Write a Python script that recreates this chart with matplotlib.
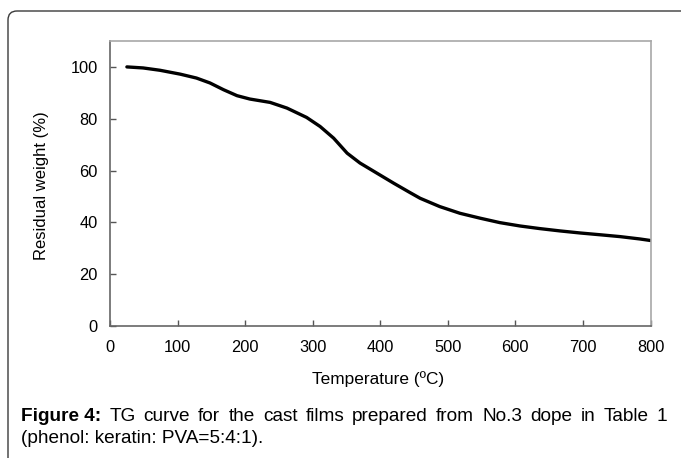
import matplotlib
matplotlib.use("Agg")
import matplotlib.pyplot as plt
from matplotlib.patches import FancyBboxPatch
from matplotlib.transforms import IdentityTransform

temperature = [25, 49, 74, 104, 128, 148, 168, 188, 207, 237, 262, 291, 311, 331,
               351, 370, 395, 420, 444, 459, 488, 518, 548, 577, 607, 636, 666,
               696, 726, 755, 784, 800]
residual = [100, 99.6, 98.7, 97.2, 95.7, 93.8, 91.2, 88.9, 87.6, 86.3, 84.1, 80.5,
            77.0, 72.5, 66.7, 62.9, 59.0, 55.1, 51.5, 49.3, 46.1, 43.5, 41.6, 39.9,
            38.6, 37.6, 36.7, 35.9, 35.2, 34.5, 33.6, 33.0]
x_ticks = [0, 100, 200, 300, 400, 500, 600, 700, 800]
y_ticks = [0, 20, 40, 60, 80, 100]

caption_bold = "Figure 4:"
caption_line1 = "TG curve for the cast films prepared from No.3 dope in Table 1"
caption_line2 = "(phenol: keratin: PVA=5:4:1)."

plt.rcParams['font.family'] = ['Liberation Sans', 'DejaVu Sans']

W, H = 681, 458
fig = plt.figure(figsize=(W / 100, H / 100), dpi=100)
fig.patch.set_facecolor('white')

# outer rounded frame
frame = FancyBboxPatch((8, -60), 720, H - 11 + 60,
                       boxstyle="round,pad=0,rounding_size=9",
                       transform=IdentityTransform(), fill=False,
                       edgecolor='#3a3a3a', linewidth=1.0)
fig.patches.append(frame)

ax = fig.add_axes([110 / W, (H - 326) / H, (650.5 - 110) / W, (326 - 41) / H])
ax.plot(temperature, residual, color='black', linewidth=2.4,
        solid_capstyle='round', solid_joinstyle='round')
ax.set_xlim(0, 800)
ax.set_ylim(0, 110)
ax.set_xticks(x_ticks)
ax.set_yticks(y_ticks)
ax.tick_params(direction='in', length=4, width=1, color='#555555',
               labelsize=11.8, labelcolor='black')
ax.tick_params(axis='x', pad=10)
ax.tick_params(axis='y', pad=9)
for s in ['left', 'bottom']:
    ax.spines[s].set_color('#666666')
    ax.spines[s].set_linewidth(1.2)
for s in ['top', 'right']:
    ax.spines[s].set_color('#a8a8a8')
    ax.spines[s].set_linewidth(1.2)

fig.text(378 / W, (H - 379) / H, "Temperature (ºC)", ha='center', va='center',
         fontsize=12.4)
fig.text(42 / W, (H - 186) / H, "Residual weight (%)", ha='center', va='center',
         rotation=90, fontsize=12.0)

# justified caption line 1
fig.canvas.draw()
renderer = fig.canvas.get_renderer()
x0, x1 = 21, 667
y1 = H - 421
probe = fig.text(0, 0, caption_bold + " " + caption_line1, fontsize=10)
pw = probe.get_window_extent(renderer).width
probe.remove()
fs = 10 * (x1 - x0) / pw * 0.94

words = [(caption_bold, 'bold')] + [(w, 'normal') for w in caption_line1.split()]
objs = []
total = 0
for w, wt in words:
    t = fig.text(0, y1 / H, w, fontsize=fs, fontweight=wt, va='baseline', ha='left')
    bb = t.get_window_extent(renderer)
    objs.append((t, bb.width))
    total += bb.width
gap = (x1 - x0 - total) / (len(words) - 1)
cx = x0
for t, wdt in objs:
    t.set_x(cx / W)
    cx += wdt + gap

fig.text(x0 / W, (H - 443) / H, caption_line2, fontsize=fs, va='baseline', ha='left')

fig.savefig("out.png", dpi=100, facecolor='white')
